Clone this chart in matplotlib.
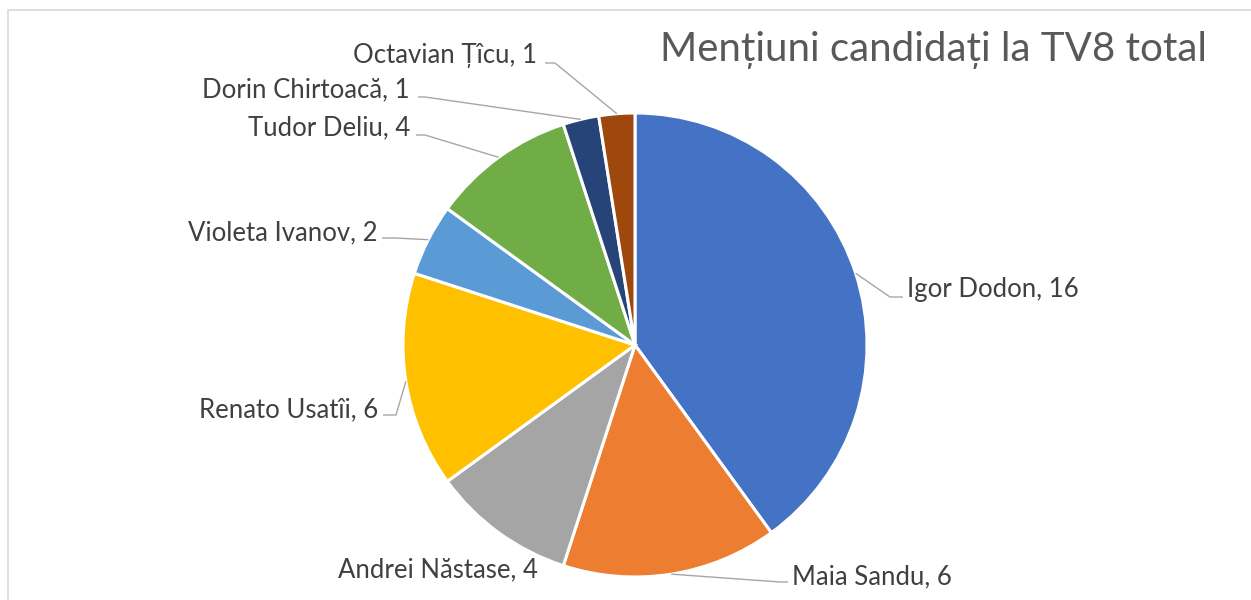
import matplotlib
matplotlib.use("Agg")
import matplotlib.pyplot as plt
import numpy as np
from matplotlib.patches import Rectangle

# ---- data ----
names = ["Igor Dodon", "Maia Sandu", "Andrei Năstase", "Renato Usatîi",
         "Violeta Ivanov", "Tudor Deliu", "Dorin Chirtoacă", "Octavian Țîcu"]
values = [16, 6, 4, 6, 2, 4, 1, 1]
colors = ["#4472C4", "#ED7D31", "#A5A5A5", "#FFC000",
          "#5B9BD5", "#70AD47", "#264478", "#9E480E"]
title = "Mențiuni candidați la TV8 total"

W, H = 1251, 600
plt.rcParams['font.family'] = ['Lato', 'DejaVu Sans']

fig = plt.figure(figsize=(W / 100, H / 100), dpi=100)
ax = fig.add_axes([0, 0, 1, 1])

cx, cy, R = 635, H - 345, 232
wedges, _ = ax.pie(values, colors=colors, startangle=90, counterclock=False,
                   center=(cx, cy), radius=R, frame=True,
                   wedgeprops=dict(edgecolor="white", linewidth=2.2))
ax.set_xlim(0, W)
ax.set_ylim(0, H)
ax.set_aspect("equal")
ax.axis("off")

# chart border
ax.add_patch(Rectangle((8, -20), W + 20, H - 10 + 20, fill=False,
                       edgecolor="#d9d9d9", linewidth=1.2))

ax.text(660, H - 50, title, fontsize=29, color="#595959",
        ha="left", va="center")

# label layout: (text x, text y (pixels from top), ha, elbow x, line end x, line y)
layout = [
    (907, 290, "left", 890, 903, 297),
    (792, 577, "left", 780, 788, 582),
    (538, 570, "right", None, None, None),
    (378, 410, "right", 396, 383, 415),
    (377, 233, "right", 395, 382, 238),
    (410, 128, "right", 425, 416, 135),
    (410, 90, "right", 425, 418, 97),
    (537, 55, "right", 555, 545, 63),
]

line_col = "#a6a6a6"
for w, name, val, lay in zip(wedges, names, values, layout):
    tx, ty, ha, ex, lx, ly = lay
    ax.text(tx, H - ty, f"{name}, {val}", fontsize=18.5,
            color="#404040", ha=ha, va="center")
    if ex is not None:
        mid = np.deg2rad((w.theta1 + w.theta2) / 2)
        axp = cx + R * np.cos(mid)
        ayp = cy + R * np.sin(mid)
        ax.plot([axp, ex, lx], [ayp, H - ly, H - ly], color=line_col, lw=1.0,
                solid_capstyle="butt")

fig.savefig("out.png", dpi=100)
